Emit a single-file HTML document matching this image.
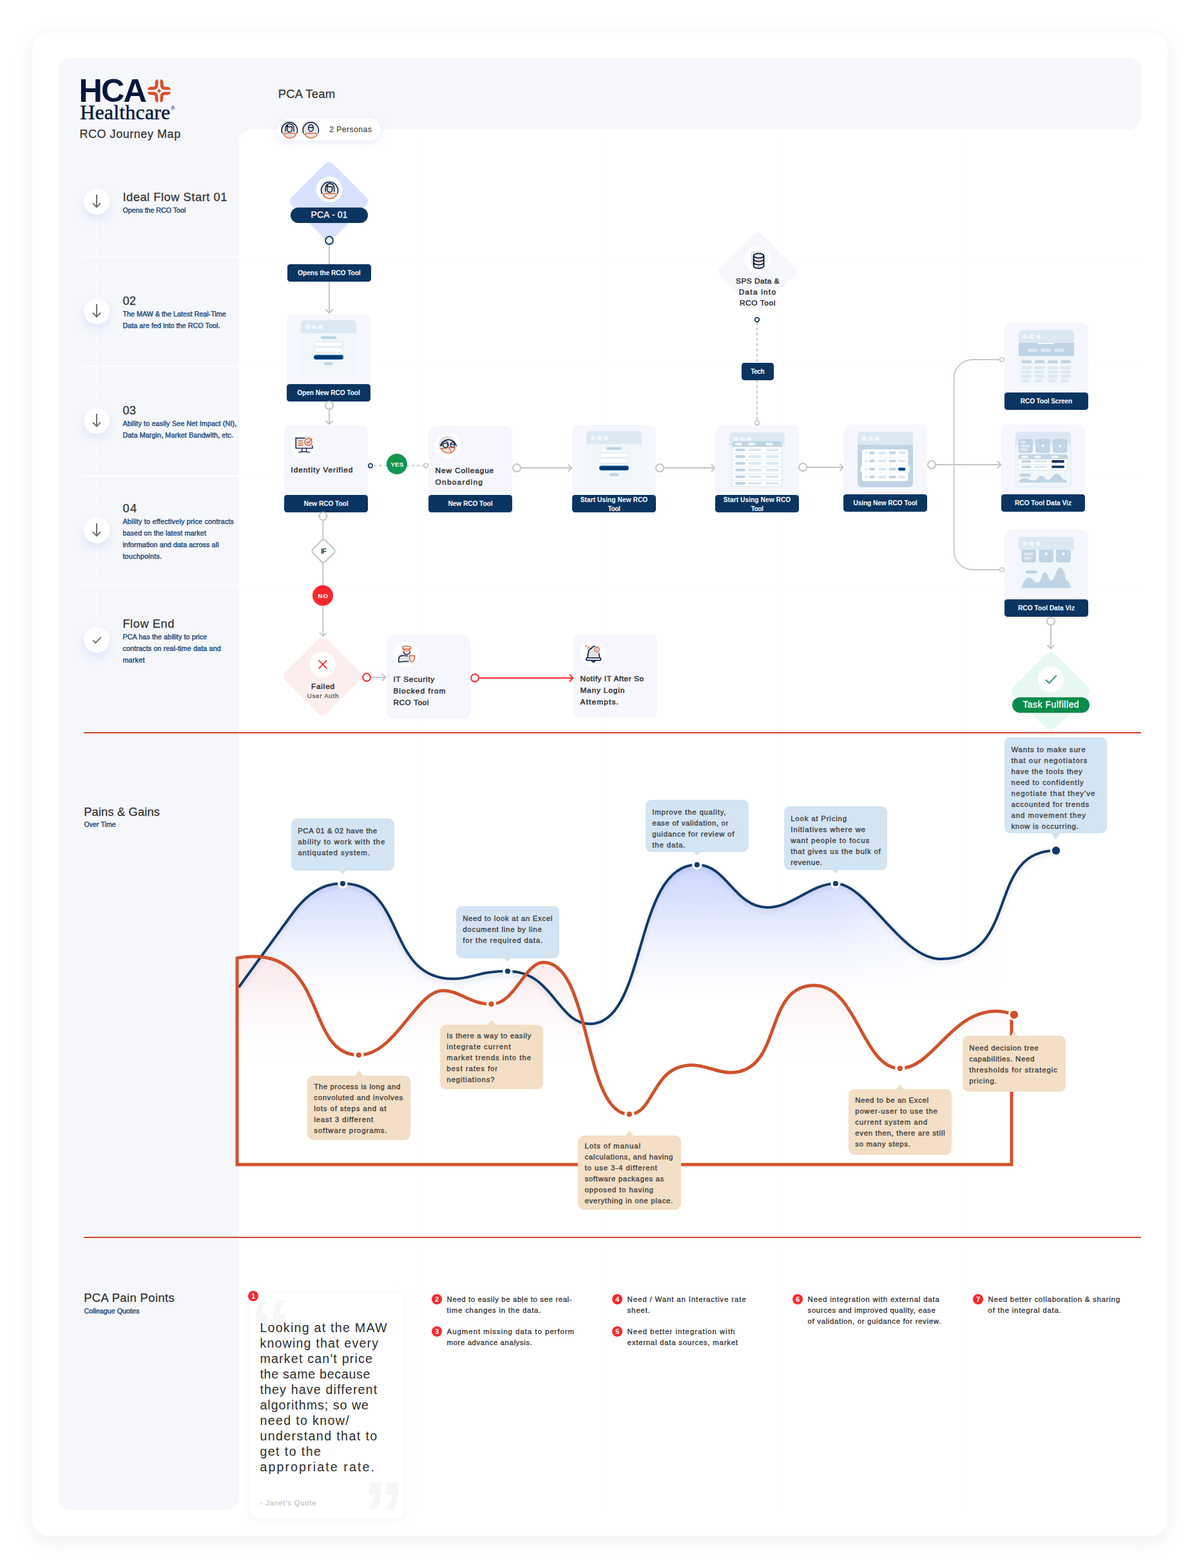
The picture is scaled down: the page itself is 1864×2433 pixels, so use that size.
<!DOCTYPE html>
<html lang="en">
<head>
<meta charset="utf-8">
<title>RCO Journey Map</title>
<style>
html,body{margin:0;padding:0}
body{width:1864px;height:2433px;position:relative;overflow:hidden;background:#fff;font-family:"Liberation Sans",sans-serif;}
.b{position:absolute;display:block;box-sizing:border-box}
.t{position:absolute;display:block;margin:0;padding:0;white-space:nowrap;line-height:1;font-weight:400}
svg{overflow:visible}
svg text{font-family:"Liberation Sans",sans-serif}
</style>
</head>
<body>
<div class="b" style="left:50px;top:50px;width:1761.5px;height:2333px;background:#fff;border-radius:27px;box-shadow:0 8px 34px rgba(20,20,30,.07);"></div>
<div class="b" style="left:90px;top:90px;width:1681px;height:111px;background:#f6f7fb;border-radius:20px 20px 20px 0;"></div>
<div class="b" style="left:90px;top:90px;width:281px;height:2253px;background:#f6f7fb;border-radius:20px 0 20px 20px;"></div>
<div class="b" style="left:371px;top:201px;width:20px;height:20px;background:#f6f7fb;"></div>
<div class="b" style="left:371px;top:201px;width:20px;height:20px;background:#fff;border-radius:20px 0 0 0;"></div>
<svg class="b" style="left:0;top:0" width="1864" height="2433" viewBox="0 0 1864 2433">
<line x1="652.5" y1="202" x2="652.5" y2="2343" stroke="#f6f6f9" stroke-width="1" stroke-dasharray="3 5"/>
<line x1="932.5" y1="202" x2="932.5" y2="2343" stroke="#f6f6f9" stroke-width="1" stroke-dasharray="3 5"/>
<line x1="1212.5" y1="202" x2="1212.5" y2="2343" stroke="#f6f6f9" stroke-width="1" stroke-dasharray="3 5"/>
<line x1="1492.5" y1="202" x2="1492.5" y2="2343" stroke="#f6f6f9" stroke-width="1" stroke-dasharray="3 5"/>
<line x1="130" y1="398.6" x2="371" y2="398.6" stroke="#fff" stroke-width="2"/>
<line x1="375" y1="398.6" x2="1771" y2="398.6" stroke="#f6f6f9" stroke-width="1" stroke-dasharray="4 5"/>
<line x1="130" y1="568.6" x2="371" y2="568.6" stroke="#fff" stroke-width="2"/>
<line x1="375" y1="568.6" x2="1771" y2="568.6" stroke="#f6f6f9" stroke-width="1" stroke-dasharray="4 5"/>
<line x1="130" y1="738.6" x2="371" y2="738.6" stroke="#fff" stroke-width="2"/>
<line x1="375" y1="738.6" x2="1771" y2="738.6" stroke="#f6f6f9" stroke-width="1" stroke-dasharray="4 5"/>
<line x1="130" y1="908.6" x2="371" y2="908.6" stroke="#fff" stroke-width="2"/>
<line x1="375" y1="908.6" x2="1771" y2="908.6" stroke="#f6f6f9" stroke-width="1" stroke-dasharray="4 5"/>
<line x1="150" y1="337" x2="150" y2="970" stroke="#fff" stroke-width="2" stroke-dasharray="4 4"/>
<line x1="130" y1="1137" x2="1771" y2="1137" stroke="#d04a28" stroke-width="2"/>
<line x1="130" y1="1920" x2="1771" y2="1920" stroke="#d04a28" stroke-width="2"/>
</svg>
<span class="t" style="left:122.6px;top:116px;font-size:50.4px;color:#03173e;font-weight:700;letter-spacing:-1.99px;">HCA</span>
<span class="t" style="left:124.2px;top:158px;font-size:32.1px;color:#03173e;letter-spacing:0.14px;-webkit-text-stroke:0.45px #03173e;font-family:'Liberation Serif',serif;">Healthcare</span>
<span class="t" style="left:265px;top:164px;font-size:9px;color:#03173e;">®</span>
<svg class="b" style="left:228.5px;top:122.5px" width="36" height="36" viewBox="-18 -18 36 36"><g fill="#d5532c"><path transform="rotate(0)" d="M1.6,-17.7Q6.6,-17.7 6.6,-12L6.6,-9Q6.6,-6.3 9.5,-6.3L12.5,-6.3Q17.7,-6.3 17.7,-1.5L9.5,-1.5Q1.6,-1.5 1.6,-9.5Z"/><path transform="rotate(90)" d="M1.6,-17.7Q6.6,-17.7 6.6,-12L6.6,-9Q6.6,-6.3 9.5,-6.3L12.5,-6.3Q17.7,-6.3 17.7,-1.5L9.5,-1.5Q1.6,-1.5 1.6,-9.5Z"/><path transform="rotate(180)" d="M1.6,-17.7Q6.6,-17.7 6.6,-12L6.6,-9Q6.6,-6.3 9.5,-6.3L12.5,-6.3Q17.7,-6.3 17.7,-1.5L9.5,-1.5Q1.6,-1.5 1.6,-9.5Z"/><path transform="rotate(270)" d="M1.6,-17.7Q6.6,-17.7 6.6,-12L6.6,-9Q6.6,-6.3 9.5,-6.3L12.5,-6.3Q17.7,-6.3 17.7,-1.5L9.5,-1.5Q1.6,-1.5 1.6,-9.5Z"/><path d="M0,-3.7Q.9,-.9 3.7,0Q.9,.9 0,3.7Q-.9,.9 -3.7,0Q-.9,-.9 0,-3.7Z"/></g></svg>
<span class="t" style="left:123.4px;top:199px;font-size:18px;color:#333;letter-spacing:0.55px;-webkit-text-stroke:0.25px #333;">RCO Journey Map</span>
<div class="b" style="left:130px;top:293px;width:40px;height:40px;background:#fff;border-radius:50%;box-shadow:0 7px 14px rgba(196,208,245,.45);"></div>
<svg class="b" style="left:130px;top:293px" width="40" height="40" viewBox="-20 -20 40 40"><path d="M0,-11 L0,8.3 M-6,2.3 L0,8.6 L6,2.3" fill="none" stroke="#6e6e6e" stroke-width="2"/></svg>
<span class="t" style="left:190.4px;top:297px;font-size:18.4px;color:#333;letter-spacing:0.48px;-webkit-text-stroke:0.25px #333;">Ideal Flow Start 01</span>
<p class="t" style="left:190.4px;top:317px;font-size:10.8px;line-height:18px;color:#1b497b;-webkit-text-stroke:0.4px #1b497b;"><span style="letter-spacing:-0.09px">Opens the RCO Tool</span></p>
<div class="b" style="left:130px;top:463px;width:40px;height:40px;background:#fff;border-radius:50%;box-shadow:0 7px 14px rgba(196,208,245,.45);"></div>
<svg class="b" style="left:130px;top:463px" width="40" height="40" viewBox="-20 -20 40 40"><path d="M0,-11 L0,8.3 M-6,2.3 L0,8.6 L6,2.3" fill="none" stroke="#6e6e6e" stroke-width="2"/></svg>
<span class="t" style="left:190.4px;top:458px;font-size:18.4px;color:#333;letter-spacing:0.13px;-webkit-text-stroke:0.25px #333;">02</span>
<p class="t" style="left:190.4px;top:478px;font-size:10.8px;line-height:18px;color:#1b497b;-webkit-text-stroke:0.4px #1b497b;"><span style="letter-spacing:-0.01px">The MAW &amp; the Latest Real-Time</span><br><span style="letter-spacing:0.02px">Data are fed into the RCO Tool.</span></p>
<div class="b" style="left:130px;top:633px;width:40px;height:40px;background:#fff;border-radius:50%;box-shadow:0 7px 14px rgba(196,208,245,.45);"></div>
<svg class="b" style="left:130px;top:633px" width="40" height="40" viewBox="-20 -20 40 40"><path d="M0,-11 L0,8.3 M-6,2.3 L0,8.6 L6,2.3" fill="none" stroke="#6e6e6e" stroke-width="2"/></svg>
<span class="t" style="left:190.4px;top:628px;font-size:18.4px;color:#333;letter-spacing:0.13px;-webkit-text-stroke:0.25px #333;">03</span>
<p class="t" style="left:190.4px;top:648px;font-size:10.8px;line-height:18px;color:#1b497b;-webkit-text-stroke:0.4px #1b497b;"><span style="letter-spacing:0.11px">Ability to easily See Net Impact (NI),</span><br><span style="letter-spacing:0.09px">Data Margin, Market Bandwith, etc.</span></p>
<div class="b" style="left:130px;top:803px;width:40px;height:40px;background:#fff;border-radius:50%;box-shadow:0 7px 14px rgba(196,208,245,.45);"></div>
<svg class="b" style="left:130px;top:803px" width="40" height="40" viewBox="-20 -20 40 40"><path d="M0,-11 L0,8.3 M-6,2.3 L0,8.6 L6,2.3" fill="none" stroke="#6e6e6e" stroke-width="2"/></svg>
<span class="t" style="left:190.4px;top:780px;font-size:18.4px;color:#333;letter-spacing:1.33px;-webkit-text-stroke:0.25px #333;">04</span>
<p class="t" style="left:190.4px;top:800px;font-size:10.8px;line-height:18px;color:#1b497b;-webkit-text-stroke:0.4px #1b497b;"><span style="letter-spacing:0.21px">Ability to effectively price contracts</span><br><span style="letter-spacing:0.09px">based on the latest market</span><br><span style="letter-spacing:0.07px">information and data across all</span><br><span style="letter-spacing:0.22px">touchpoints.</span></p>
<div class="b" style="left:130px;top:973px;width:40px;height:40px;background:#fff;border-radius:50%;box-shadow:0 7px 14px rgba(196,208,245,.45);"></div>
<svg class="b" style="left:130px;top:973px" width="40" height="40" viewBox="-20 -20 40 40"><path d="M-5.6,0.6 L-1.7,4.6 L6.6,-4.4" fill="none" stroke="#6e6e6e" stroke-width="2"/></svg>
<span class="t" style="left:190.4px;top:959px;font-size:18.4px;color:#333;letter-spacing:0.48px;-webkit-text-stroke:0.25px #333;">Flow End</span>
<p class="t" style="left:190.4px;top:979px;font-size:10.8px;line-height:18px;color:#1b497b;-webkit-text-stroke:0.4px #1b497b;"><span style="letter-spacing:0.07px">PCA has the ability to price</span><br><span style="letter-spacing:0.12px">contracts on real-time data and</span><br><span style="letter-spacing:0.2px">market</span></p>
<span class="t" style="left:130.2px;top:1251px;font-size:18.4px;color:#333;letter-spacing:0.11px;-webkit-text-stroke:0.25px #333;">Pains &amp; Gains</span>
<span class="t" style="left:130.4px;top:1274px;font-size:10.8px;color:#1b497b;letter-spacing:-0.04px;-webkit-text-stroke:0.4px #1b497b;">Over Time</span>
<span class="t" style="left:130.2px;top:2005px;font-size:18.4px;color:#333;letter-spacing:0.4px;-webkit-text-stroke:0.25px #333;">PCA Pain Points</span>
<span class="t" style="left:130.4px;top:2029px;font-size:10.8px;color:#1b497b;letter-spacing:-0.03px;-webkit-text-stroke:0.4px #1b497b;">Colleague Quotes</span>
<span class="t" style="left:431.8px;top:137px;font-size:18.4px;color:#333;letter-spacing:0.24px;-webkit-text-stroke:0.25px #333;">PCA Team</span>
<div class="b" style="left:431.4px;top:184px;width:159.6px;height:34px;background:#fff;border-radius:17px;box-shadow:0 4px 12px rgba(200,210,240,.35);"></div>
<svg class="b" style="left:429.5px;top:182px" width="37.6" height="37.6" viewBox="-20 -20 40 40"><circle cx="-1.5" cy="-1.7" r="13.2" fill="#e3e3e3"/><path d="M-11.2,6.6A12.9,12.9 0 1 1 12.4,6.6" fill="none" stroke="#03173e" stroke-width="1.5"/><path d="M-5.8,3.6L-5.8,-2.3A6.7,6.9 0 0 1 7.6,-2.3L7.6,3.6" fill="none" stroke="#03173e" stroke-width="1.5"/><path d="M-3.3,-7L-1.6,-4.3L4.6,-4.3L4.6,0A3.95,4.4 0 0 1 -3.3,0Z" fill="none" stroke="#03173e" stroke-width="1.5" stroke-linejoin="round"/><path d="M-9.6,8.3Q-6.5,5.6 -2,6.3Q1,6.8 4,6.3Q8.5,5.6 11.7,8.3Q7,14.3 1,14.3Q-5,14.3 -9.6,8.3Z" fill="#e3e3e3" stroke="#e2592b" stroke-width="1.4" stroke-linejoin="round"/></svg>
<svg class="b" style="left:462.5px;top:182px" width="37.6" height="37.6" viewBox="-20 -20 40 40"><circle cx="-1.5" cy="-1.7" r="13.2" fill="#e3e3e3"/><path d="M-11.2,6.6A12.9,12.9 0 1 1 12.4,6.6" fill="none" stroke="#03173e" stroke-width="1.5"/><ellipse cx="0.8" cy="-2.2" rx="4" ry="5.6" fill="none" stroke="#03173e" stroke-width="1.5"/><path d="M-3.2,-3.3L4.8,-3.3" stroke="#03173e" stroke-width="1.5"/><path d="M-9.6,8.3Q-6.5,5.6 -2,6.3Q1,6.8 4,6.3Q8.5,5.6 11.7,8.3Q7,14.3 1,14.3Q-5,14.3 -9.6,8.3Z" fill="#e3e3e3" stroke="#e2592b" stroke-width="1.4" stroke-linejoin="round"/></svg>
<span class="t" style="left:511.2px;top:195px;font-size:12px;color:#444;letter-spacing:0.54px;-webkit-text-stroke:0.2px #444;">2 Personas</span>
<div class="b" style="left:465.44px;top:267.44px;width:91.11px;height:91.11px;background:#d6e2ff;border-radius:9px;transform:rotate(45deg)"></div>
<div class="b" style="left:491px;top:274px;width:40px;height:40px;background:#fff;border-radius:50%;"></div>
<svg class="b" style="left:491px;top:274px" width="40" height="40" viewBox="-20 -20 40 40"><circle cx="-1.5" cy="-1.7" r="13.2" fill="#e3e3e3"/><path d="M-11.2,6.6A12.9,12.9 0 1 1 12.4,6.6" fill="none" stroke="#03173e" stroke-width="1.5"/><path d="M-5.8,3.6L-5.8,-2.3A6.7,6.9 0 0 1 7.6,-2.3L7.6,3.6" fill="none" stroke="#03173e" stroke-width="1.5"/><path d="M-3.3,-7L-1.6,-4.3L4.6,-4.3L4.6,0A3.95,4.4 0 0 1 -3.3,0Z" fill="none" stroke="#03173e" stroke-width="1.5" stroke-linejoin="round"/><path d="M-9.6,8.3Q-6.5,5.6 -2,6.3Q1,6.8 4,6.3Q8.5,5.6 11.7,8.3Q7,14.3 1,14.3Q-5,14.3 -9.6,8.3Z" fill="#e3e3e3" stroke="#e2592b" stroke-width="1.4" stroke-linejoin="round"/></svg>
<div class="b" style="left:451px;top:322px;width:120px;height:24px;background:#0a3561;border-radius:12px;"></div>
<span class="t" style="left:482.6px;top:326px;font-size:14px;color:#fff;letter-spacing:0.11px;-webkit-text-stroke:0.25px #fff;">PCA - 01</span>
<svg class="b" style="left:0;top:0" width="1864" height="2433" viewBox="0 0 1864 2433">
<line x1="511" y1="379" x2="511" y2="411" stroke="#c4c4c4" stroke-width="2"/>
<line x1="511" y1="437" x2="511" y2="485.6" stroke="#c4c4c4" stroke-width="2"/><path d="M505.4,480L511,485.6L516.6,480" fill="none" stroke="#c4c4c4" stroke-width="2"/>
<line x1="511" y1="635" x2="511" y2="658.2" stroke="#c4c4c4" stroke-width="2"/><path d="M505.4,652.6L511,658.2L516.6,652.6" fill="none" stroke="#c4c4c4" stroke-width="2"/>
<line x1="501.4" y1="807" x2="501.4" y2="838" stroke="#c4c4c4" stroke-width="2"/>
<line x1="501.4" y1="872" x2="501.4" y2="909" stroke="#c4c4c4" stroke-width="2"/>
<line x1="501.4" y1="939" x2="501.4" y2="987.2" stroke="#c4c4c4" stroke-width="2"/><path d="M495.8,981.6L501.4,987.2L507,981.6" fill="none" stroke="#c4c4c4" stroke-width="2"/>
<rect x="-13.7" y="-13.7" width="27.4" height="27.4" rx="4.5" transform="translate(502 855) rotate(45)" fill="#fff" stroke="#c4c4c4" stroke-width="2"/>
<line x1="580" y1="722.6" x2="657" y2="722.6" stroke="#c4c4c4" stroke-width="2" stroke-dasharray="4 4.4"/>
<line x1="808" y1="726" x2="887.4" y2="726" stroke="#c4c4c4" stroke-width="2"/><path d="M881.8,720.4L887.4,726L881.8,731.6" fill="none" stroke="#c4c4c4" stroke-width="2"/>
<line x1="1030" y1="726" x2="1109.6" y2="726" stroke="#c4c4c4" stroke-width="2"/><path d="M1104,720.4L1109.6,726L1104,731.6" fill="none" stroke="#c4c4c4" stroke-width="2"/>
<line x1="1252" y1="725" x2="1308.8" y2="725" stroke="#c4c4c4" stroke-width="2"/><path d="M1303.2,719.4L1308.8,725L1303.2,730.6" fill="none" stroke="#c4c4c4" stroke-width="2"/>
<line x1="1452" y1="721" x2="1553.4" y2="721" stroke="#c4c4c4" stroke-width="2"/><path d="M1547.8,715.4L1553.4,721L1547.8,726.6" fill="none" stroke="#c4c4c4" stroke-width="2"/>
<path d="M1551,558L1510,558A29.5,29.5 0 0 0 1480.5,587.5L1480.5,854.5A29.5,29.5 0 0 0 1510,884L1551,884" fill="none" stroke="#c9c9c9" stroke-width="2"/>
<line x1="1175" y1="500" x2="1175" y2="563" stroke="#c4c4c4" stroke-width="2" stroke-dasharray="4 4.2"/>
<line x1="1175" y1="590" x2="1175" y2="652" stroke="#c4c4c4" stroke-width="2" stroke-dasharray="4 4.2"/>
<line x1="1631" y1="970" x2="1631" y2="1006.6" stroke="#c4c4c4" stroke-width="2"/><path d="M1625.4,1001L1631,1006.6L1636.6,1001" fill="none" stroke="#c4c4c4" stroke-width="2"/>
<line x1="575" y1="1051" x2="598.4" y2="1051" stroke="#c4c4c4" stroke-width="2"/><path d="M592.8,1045.4L598.4,1051L592.8,1056.6" fill="none" stroke="#c4c4c4" stroke-width="2"/>
<line x1="743" y1="1052" x2="889.4" y2="1052" stroke="#f9282d" stroke-width="2"/><path d="M883.8,1046.4L889.4,1052L883.8,1057.6" fill="none" stroke="#f9282d" stroke-width="2"/>
</svg>
<div class="b" style="left:445.7px;top:410px;width:130.5px;height:27px;background:#0a3561;border-radius:4.5px;"></div>
<span class="t" style="left:462.2px;top:419px;font-size:10.2px;color:#fff;font-weight:700;letter-spacing:-0.08px;">Opens the RCO Tool</span>
<div class="b" style="left:445px;top:487.6px;width:130px;height:135.4px;background:#f6f6fe;border-radius:10px;"></div>
<svg class="b" style="left:467px;top:497px" width="86" height="86" viewBox="0 0 86 86"><rect width="86" height="86" rx="6" fill="#f0f6fa"/><path d="M0,20L0,6A6,6 0 0 1 6,0L80,0A6,6 0 0 1 86,6L86,20Z" fill="#dce9f3"/><circle cx="10.4" cy="10.4" r="3.5" fill="#f0f6fa"/><circle cx="20.4" cy="10.4" r="3.5" fill="#f0f6fa"/><circle cx="30.4" cy="10.4" r="3.5" fill="#f0f6fa"/><rect x="31" y="24.8" width="24" height="4.3" rx="2.15" fill="#bfd4e5"/><rect x="20.5" y="33.7" width="45" height="6.8" rx="3.4" fill="#fff" stroke="#dbe5ef" stroke-width="1"/><rect x="20.5" y="42.6" width="45" height="6.8" rx="3.4" fill="#fff" stroke="#dbe5ef" stroke-width="1"/><rect x="20.5" y="54.1" width="45" height="6.4" rx="3.2" fill="#0a3561" stroke="#0b6ac0" stroke-width="1.2"/><rect x="36" y="65.3" width="14" height="4.4" rx="2.2" fill="#bfd4e5"/></svg>
<div class="b" style="left:445px;top:596px;width:130px;height:27px;background:#0a3561;border-radius:4.5px;"></div>
<span class="t" style="left:461.25px;top:605px;font-size:10.2px;color:#fff;font-weight:700;letter-spacing:-0.08px;">Open New RCO Tool</span>
<div class="b" style="left:441px;top:660px;width:130px;height:135px;background:#f6f6fe;border-radius:10px;"></div>
<div class="b" style="left:451px;top:670px;width:40px;height:40px;background:#fff;border-radius:50%;"></div>
<svg class="b" style="left:451px;top:670px" width="40" height="40" viewBox="-20 -20 40 40"><rect x="-14" y="-13" width="27" height="16" fill="#e3e3e3"/><path d="M2.4,-10.2L-11.7,-10.2L-11.7,5.4L13.9,5.4L13.9,1" fill="none" stroke="#1b2b55" stroke-width="1.5"/><path d="M-2.4,5.4L-2.4,11M4.6,5.4L4.6,11M-8,11.9Q1,10 10,11.9" fill="none" stroke="#1b2b55" stroke-width="1.4"/><path d="M-8,-5.8L-1,-5.8M-8,-2.4L-1,-2.4M-8,1L-1,1" stroke="#e2592b" stroke-width="1.3"/><circle cx="7.6" cy="-4.3" r="5.4" fill="none" stroke="#e2592b" stroke-width="1.4"/><path d="M5,-4.6L7.3,-2.2L13.4,-9.4" fill="none" stroke="#e2592b" stroke-width="1.4"/></svg>
<div class="b" style="left:441px;top:768px;width:130px;height:27px;background:#0a3561;border-radius:4.5px;"></div>
<span class="t" style="left:471.5px;top:777px;font-size:10.2px;color:#fff;font-weight:700;letter-spacing:-0.09px;">New RCO Tool</span>
<span class="t" style="left:451.4px;top:724px;font-size:11.8px;color:#333;letter-spacing:0.96px;-webkit-text-stroke:0.5px #333;">Identity Verified</span>
<div class="b" style="left:600px;top:704px;width:32px;height:32px;background:#12964f;border-radius:50%;"></div>
<span class="t" style="left:606.2px;top:716px;font-size:9.8px;color:#fff;font-weight:700;letter-spacing:0.2px;">YES</span>
<div class="b" style="left:665px;top:661px;width:130px;height:134px;background:#f6f6fe;border-radius:10px;"></div>
<div class="b" style="left:675px;top:671px;width:40px;height:40px;background:#fff;border-radius:50%;"></div>
<svg class="b" style="left:675px;top:671px" width="40" height="40" viewBox="-20 -20 40 40"><circle cx="-1.2" cy="-1.6" r="13" fill="#e3e3e3"/><path d="M-11.6,1.4A12.8,12.8 0 0 1 13.4,1.4" fill="none" stroke="#03173e" stroke-width="1.5"/><path d="M-9.3,1.6L-9.3,-1A5,5.4 0 0 1 .8,-1L.8,1.6" fill="none" stroke="#03173e" stroke-width="1.3"/><path d="M-7.2,-3.2L0,-3.2L0,0A3.6,3.6 0 0 1 -7.2,0Z" fill="none" stroke="#03173e" stroke-width="1.3" stroke-linejoin="round"/><ellipse cx="7.3" cy="-.8" rx="3.2" ry="4" fill="none" stroke="#03173e" stroke-width="1.3"/><path d="M4.2,-1.6L10.4,-1.6" stroke="#03173e" stroke-width="1.3"/><path d="M-11,4.8Q-5,5.6 -1,4.2Q3,2.6 6,3.6L11.6,3.6Q9.6,9.6 4.6,11.6Q-4,14 -11,4.8Z" fill="#e6e9ea" stroke="#e2592b" stroke-width="1.4" stroke-linejoin="round"/><path d="M1,3.8Q5.4,6 4.8,11.2" fill="none" stroke="#e2592b" stroke-width="1.2"/></svg>
<div class="b" style="left:665px;top:768px;width:130px;height:27px;background:#0a3561;border-radius:4.5px;"></div>
<span class="t" style="left:695.5px;top:777px;font-size:10.2px;color:#fff;font-weight:700;letter-spacing:-0.09px;">New RCO Tool</span>
<p class="t" style="left:675.6px;top:721px;font-size:11.8px;line-height:18px;color:#333;-webkit-text-stroke:0.5px #333;"><span style="letter-spacing:0.88px">New Colleague</span><br><span style="letter-spacing:1.29px">Onboarding</span></p>
<div class="b" style="left:888px;top:660px;width:130px;height:135px;background:#f6f6fe;border-radius:10px;"></div>
<svg class="b" style="left:910px;top:669px" width="86" height="86" viewBox="0 0 86 86"><rect width="86" height="86" rx="6" fill="#f0f6fa"/><path d="M0,20L0,6A6,6 0 0 1 6,0L80,0A6,6 0 0 1 86,6L86,20Z" fill="#dce9f3"/><circle cx="10.4" cy="10.4" r="3.5" fill="#f0f6fa"/><circle cx="20.4" cy="10.4" r="3.5" fill="#f0f6fa"/><circle cx="30.4" cy="10.4" r="3.5" fill="#f0f6fa"/><rect x="31" y="24.8" width="24" height="4.3" rx="2.15" fill="#bfd4e5"/><rect x="20.5" y="33.7" width="45" height="6.8" rx="3.4" fill="#fff" stroke="#dbe5ef" stroke-width="1"/><rect x="20.5" y="42.6" width="45" height="6.8" rx="3.4" fill="#fff" stroke="#dbe5ef" stroke-width="1"/><rect x="20.5" y="54.1" width="45" height="6.4" rx="3.2" fill="#0a3561" stroke="#0b6ac0" stroke-width="1.2"/><rect x="36" y="65.3" width="14" height="4.4" rx="2.2" fill="#bfd4e5"/></svg>
<div class="b" style="left:888px;top:768px;width:130px;height:27px;background:#0a3561;border-radius:4.5px;"></div>
<p class="t" style="left:953px;top:769px;font-size:10.2px;line-height:14px;color:#fff;font-weight:700;text-align:center;transform:translateX(-50%);"><span style="letter-spacing:0.06px">Start Using New RCO</span><br><span style="letter-spacing:-0.42px">Tool</span></p>
<div class="b" style="left:1110px;top:660px;width:130px;height:135px;background:#f6f6fe;border-radius:10px;"></div>
<svg class="b" style="left:1132px;top:670.7px" width="86" height="86" viewBox="0 0 86 86"><rect width="86" height="86" rx="6" fill="#f0f6fa"/><path d="M0,20L0,6A6,6 0 0 1 6,0L80,0A6,6 0 0 1 86,6L86,20Z" fill="#dce9f3"/><circle cx="10.4" cy="10.4" r="3.5" fill="#f0f6fa"/><circle cx="20.4" cy="10.4" r="3.5" fill="#f0f6fa"/><circle cx="30.4" cy="10.4" r="3.5" fill="#f0f6fa"/><rect x="4.5" y="13.7" width="77" height="70.3" rx="4" fill="#fff" stroke="#dbe6f0" stroke-width="1"/><path d="M4.5,22.6L4.5,17.7A4,4 0 0 1 8.5,13.7L77.5,13.7A4,4 0 0 1 81.5,17.7L81.5,22.6Z" fill="#bfd4e5"/><rect x="9" y="15.9" width="11" height="4.3" rx="2.15" fill="#f0f6fa"/><rect x="29.3" y="15.9" width="11.2" height="4.3" rx="2.15" fill="#f0f6fa"/><rect x="56.4" y="15.9" width="11.3" height="4.3" rx="2.15" fill="#f0f6fa"/><rect x="9" y="24.95" width="16" height="4.3" rx="2.15" fill="#bfd4e5"/><rect x="29.3" y="24.95" width="20.5" height="4.3" rx="2.15" fill="#dce9f3"/><rect x="56.4" y="24.95" width="20.6" height="4.3" rx="2.15" fill="#dce9f3"/><rect x="5" y="32.1" width="76" height="1" fill="#dbe6f0"/><rect x="9" y="35.33" width="16" height="4.3" rx="2.15" fill="#bfd4e5"/><rect x="29.3" y="35.33" width="20.5" height="4.3" rx="2.15" fill="#dce9f3"/><rect x="56.4" y="35.33" width="20.6" height="4.3" rx="2.15" fill="#dce9f3"/><rect x="5" y="42.48" width="76" height="1" fill="#dbe6f0"/><rect x="9" y="45.71" width="16" height="4.3" rx="2.15" fill="#bfd4e5"/><rect x="29.3" y="45.71" width="20.5" height="4.3" rx="2.15" fill="#dce9f3"/><rect x="56.4" y="45.71" width="20.6" height="4.3" rx="2.15" fill="#dce9f3"/><rect x="5" y="52.86" width="76" height="1" fill="#dbe6f0"/><rect x="9" y="56.09" width="16" height="4.3" rx="2.15" fill="#bfd4e5"/><rect x="29.3" y="56.09" width="20.5" height="4.3" rx="2.15" fill="#dce9f3"/><rect x="56.4" y="56.09" width="20.6" height="4.3" rx="2.15" fill="#dce9f3"/><rect x="5" y="63.24" width="76" height="1" fill="#dbe6f0"/><rect x="9" y="66.47" width="16" height="4.3" rx="2.15" fill="#bfd4e5"/><rect x="29.3" y="66.47" width="20.5" height="4.3" rx="2.15" fill="#dce9f3"/><rect x="56.4" y="66.47" width="20.6" height="4.3" rx="2.15" fill="#dce9f3"/><rect x="5" y="73.62" width="76" height="1" fill="#dbe6f0"/><rect x="9" y="76.85" width="16" height="4.3" rx="2.15" fill="#bfd4e5"/><rect x="29.3" y="76.85" width="20.5" height="4.3" rx="2.15" fill="#dce9f3"/><rect x="56.4" y="76.85" width="20.6" height="4.3" rx="2.15" fill="#dce9f3"/></svg>
<div class="b" style="left:1110px;top:768px;width:130px;height:27px;background:#0a3561;border-radius:4.5px;"></div>
<p class="t" style="left:1175px;top:769px;font-size:10.2px;line-height:14px;color:#fff;font-weight:700;text-align:center;transform:translateX(-50%);"><span style="letter-spacing:0.06px">Start Using New RCO</span><br><span style="letter-spacing:-0.42px">Tool</span></p>
<div class="b" style="left:1309px;top:658.8px;width:130px;height:135px;background:#f6f6fe;border-radius:10px;"></div>
<svg class="b" style="left:1331px;top:670px" width="86" height="86" viewBox="0 0 86 86"><rect width="86" height="86" rx="6" fill="#bfd4e5"/><path d="M0,20L0,6A6,6 0 0 1 6,0L80,0A6,6 0 0 1 86,6L86,20Z" fill="#dce9f3"/><circle cx="10.4" cy="10.4" r="3.5" fill="#f0f6fa"/><circle cx="20.4" cy="10.4" r="3.5" fill="#f0f6fa"/><circle cx="30.4" cy="10.4" r="3.5" fill="#f0f6fa"/><rect x="7" y="27.2" width="71.4" height="49.4" rx="3.5" fill="#fff"/><rect x="7" y="39.2" width="71.4" height=".8" fill="#e4ecf4"/><rect x="4.6" y="52.2" width="76.4" height="11.8" rx="3.5" fill="#dfe8f1"/><rect x="5.2" y="52.8" width="75.2" height="10.6" rx="3.2" fill="#fff"/><circle cx="13.4" cy="32.7" r="2.3" fill="#dce9f3"/><rect x="18" y="30.55" width="9" height="4.3" rx="2.15" fill="#bfd4e5"/><rect x="31.5" y="30.55" width="13.4" height="4.3" rx="2.15" fill="#dce9f3"/><rect x="48.6" y="30.55" width="11.2" height="4.3" rx="2.15" fill="#bfd4e5"/><rect x="63.1" y="30.55" width="11.1" height="4.3" rx="2.15" fill="#dce9f3"/><circle cx="13.4" cy="45.4" r="2.3" fill="#dce9f3"/><rect x="18" y="43.25" width="9" height="4.3" rx="2.15" fill="#bfd4e5"/><rect x="31.5" y="43.25" width="13.4" height="4.3" rx="2.15" fill="#dce9f3"/><rect x="48.6" y="43.25" width="11.2" height="4.3" rx="2.15" fill="#bfd4e5"/><rect x="63.1" y="43.25" width="11.1" height="4.3" rx="2.15" fill="#dce9f3"/><circle cx="13.4" cy="58" r="2.3" fill="#dce9f3"/><rect x="18" y="55.85" width="9" height="4.3" rx="2.15" fill="#bfd4e5"/><rect x="31.5" y="55.85" width="13.4" height="4.3" rx="2.15" fill="#dce9f3"/><rect x="48.6" y="55.85" width="11.2" height="4.3" rx="2.15" fill="#bfd4e5"/><rect x="63.4" y="56.1" width="10.6" height="3.8" rx="1.9" fill="#0a3561" stroke="#0b6ac0" stroke-width="1.1"/><circle cx="13.4" cy="70.2" r="2.3" fill="#dce9f3"/><rect x="18" y="68.05" width="9" height="4.3" rx="2.15" fill="#bfd4e5"/><rect x="31.5" y="68.05" width="13.4" height="4.3" rx="2.15" fill="#dce9f3"/><rect x="48.6" y="68.05" width="11.2" height="4.3" rx="2.15" fill="#bfd4e5"/><rect x="63.1" y="68.05" width="11.1" height="4.3" rx="2.15" fill="#dce9f3"/></svg>
<div class="b" style="left:1309px;top:767px;width:130px;height:27px;background:#0a3561;border-radius:4.5px;"></div>
<span class="t" style="left:1324.5px;top:776px;font-size:10.2px;color:#fff;font-weight:700;letter-spacing:-0.12px;">Using New RCO Tool</span>
<div class="b" style="left:1559px;top:501px;width:130px;height:135px;background:#f6f6fe;border-radius:10px;"></div>
<svg class="b" style="left:1581px;top:512px" width="86" height="86" viewBox="0 0 86 86"><rect width="86" height="86" rx="6" fill="#f0f6fa"/><path d="M0,20L0,6A6,6 0 0 1 6,0L80,0A6,6 0 0 1 86,6L86,20Z" fill="#dce9f3"/><circle cx="10.4" cy="10.4" r="3.5" fill="#f0f6fa"/><circle cx="20.4" cy="10.4" r="3.5" fill="#f0f6fa"/><circle cx="30.4" cy="10.4" r="3.5" fill="#f0f6fa"/><rect x="0" y="20" width="86" height="20.5" fill="#bfd4e5"/><path d="M29,20L55.8,20Q55,21.9 53.6,21.9L31.2,21.9Q29.8,21.9 29,20Z" fill="#f5f9fc"/><rect x="14.1" y="29.1" width="15.9" height="4.8" rx="2.4" fill="#dce9f3"/><rect x="34.5" y="29.1" width="15.7" height="4.8" rx="2.4" fill="#dce9f3"/><rect x="54.9" y="29.1" width="15.8" height="4.8" rx="2.4" fill="#dce9f3"/><rect x="4.5" y="47" width="15.8" height="4.8" rx="2.4" fill="#bfd4e5"/><rect x="24.8" y="47" width="15.8" height="4.8" rx="2.4" fill="#bfd4e5"/><rect x="45" y="47" width="15.8" height="4.8" rx="2.4" fill="#bfd4e5"/><rect x="65.1" y="47" width="15.8" height="4.8" rx="2.4" fill="#bfd4e5"/><rect x="4.5" y="56.1" width="15.8" height="4.8" rx="2.4" fill="#dce9f3"/><rect x="24.8" y="56.1" width="15.8" height="4.8" rx="2.4" fill="#dce9f3"/><rect x="45" y="56.1" width="15.8" height="4.8" rx="2.4" fill="#dce9f3"/><rect x="65.1" y="56.1" width="15.8" height="4.8" rx="2.4" fill="#dce9f3"/><rect x="4.5" y="62.8" width="15.8" height="4.8" rx="2.4" fill="#dce9f3"/><rect x="24.8" y="62.8" width="15.8" height="4.8" rx="2.4" fill="#dce9f3"/><rect x="45" y="62.8" width="15.8" height="4.8" rx="2.4" fill="#dce9f3"/><rect x="65.1" y="62.8" width="15.8" height="4.8" rx="2.4" fill="#dce9f3"/><rect x="4.5" y="69.6" width="15.8" height="4.8" rx="2.4" fill="#dce9f3"/><rect x="24.8" y="69.6" width="15.8" height="4.8" rx="2.4" fill="#dce9f3"/><rect x="45" y="69.6" width="15.8" height="4.8" rx="2.4" fill="#dce9f3"/><rect x="65.1" y="69.6" width="15.8" height="4.8" rx="2.4" fill="#dce9f3"/><rect x="4.5" y="76.3" width="12" height="4.8" rx="2.4" fill="#dce9f3"/><rect x="24.8" y="76.3" width="12" height="4.8" rx="2.4" fill="#dce9f3"/><rect x="45" y="76.3" width="12" height="4.8" rx="2.4" fill="#dce9f3"/><rect x="65.1" y="76.3" width="12" height="4.8" rx="2.4" fill="#dce9f3"/></svg>
<div class="b" style="left:1559px;top:609px;width:130px;height:27px;background:#0a3561;border-radius:4.5px;"></div>
<span class="t" style="left:1583.8px;top:618px;font-size:10.2px;color:#fff;font-weight:700;letter-spacing:-0.19px;">RCO Tool Screen</span>
<div class="b" style="left:1554px;top:659px;width:130px;height:135px;background:#f6f6fe;border-radius:10px;"></div>
<svg class="b" style="left:1576px;top:670px" width="86" height="86" viewBox="0 0 86 86"><rect width="86" height="86" rx="6" fill="#f0f6fa"/><path d="M0,20L0,6A6,6 0 0 1 6,0L80,0A6,6 0 0 1 86,6L86,20Z" fill="#dce9f3"/><rect x=".4" y=".4" width="85.2" height="85.2" rx="5.8" fill="none" stroke="#d9e5ef" stroke-width=".8"/><rect x="4.6" y="11" width="22.3" height="21.7" rx="3.8" fill="#bfd4e5"/><rect x="31.4" y="11" width="22.3" height="21.7" rx="3.8" fill="#bfd4e5"/><rect x="58.2" y="11" width="22.3" height="21.7" rx="3.8" fill="#bfd4e5"/><rect x="7.7" y="14.2" width="8.3" height="4" rx="2" fill="#dce9f3"/><rect x="7.7" y="20" width="15.3" height="4" rx="2" fill="#dce9f3"/><rect x="7.7" y="25.6" width="11.7" height="4" rx="2" fill="#dce9f3"/><circle cx="42.5" cy="21.8" r="7.2" fill="none" stroke="#dce9f3" stroke-width=".5"/><ellipse cx="42.5" cy="21.8" rx="2.5" ry="2.1" fill="#f0f6fa"/><circle cx="69.3" cy="21.8" r="7.2" fill="none" stroke="#dce9f3" stroke-width=".5"/><ellipse cx="69.3" cy="21.8" rx="2.5" ry="2.1" fill="#f0f6fa"/><rect x="4.5" y="35.2" width="76.6" height="24" rx="3.8" fill="#fff" stroke="#dbe6f0" stroke-width="1"/><path d="M4.5,42.4L4.5,39A3.8,3.8 0 0 1 8.3,35.2L77.3,35.2A3.8,3.8 0 0 1 81.1,39L81.1,42.4Z" fill="#bfd4e5"/><rect x="9" y="36.9" width="11" height="3.9" rx="1.95" fill="#f0f6fa"/><rect x="29" y="36.9" width="11" height="3.9" rx="1.95" fill="#f0f6fa"/><rect x="56" y="36.9" width="11" height="3.9" rx="1.95" fill="#f0f6fa"/><rect x="5" y="50" width="75.6" height=".9" fill="#dbe6f0"/><rect x="9" y="44.1" width="15.4" height="3.8" rx="1.9" fill="#bfd4e5"/><rect x="29" y="44.1" width="20" height="3.8" rx="1.9" fill="#dce9f3"/><rect x="56" y="44.1" width="20" height="3.8" rx="1.9" fill="#0a3561"/><rect x="9" y="52.4" width="15.4" height="3.8" rx="1.9" fill="#bfd4e5"/><rect x="29" y="52.4" width="20" height="3.8" rx="1.9" fill="#dce9f3"/><rect x="56" y="52.4" width="20" height="3.8" rx="1.9" fill="#0a3561"/><rect x="6.2" y="65.1" width="17.8" height="4.6" rx="2.3" fill="#bfd4e5"/><path d="M4.6,78.8C7,74 10,71.8 14.5,71.8C20,71.8 22,75.6 28.5,75.6C34,75.6 34.6,68.2 40,68.2C45.6,68.2 45,74.4 50.4,74.4C56,74.4 58.6,65 64.2,65C68,65 71.4,69 72.6,73.2C75,73.4 78.6,73.6 80.4,78.8Z" fill="#bfd4e5"/></svg>
<div class="b" style="left:1554px;top:767px;width:130px;height:27px;background:#0a3561;border-radius:4.5px;"></div>
<span class="t" style="left:1575px;top:776px;font-size:10.2px;color:#fff;font-weight:700;letter-spacing:-0.03px;">RCO Tool Data Viz</span>
<div class="b" style="left:1559px;top:822px;width:130px;height:135px;background:#f6f6fe;border-radius:10px;"></div>
<svg class="b" style="left:1581px;top:833px" width="86" height="86" viewBox="0 0 86 86"><rect width="86" height="86" rx="6" fill="#f0f6fa"/><rect x="4.6" y="14" width="22.4" height="25.7" rx="3.8" fill="#bfd4e5"/><rect x="31.4" y="14" width="22.4" height="25.7" rx="3.8" fill="#bfd4e5"/><rect x="58.2" y="14" width="22.4" height="25.7" rx="3.8" fill="#bfd4e5"/><rect x="7.7" y="24.4" width="15.3" height="4.4" rx="2.2" fill="#dce9f3"/><rect x="7.7" y="31" width="11.9" height="4.4" rx="2.2" fill="#dce9f3"/><circle cx="42.6" cy="26.4" r="7.5" fill="none" stroke="#dce9f3" stroke-width=".6"/><circle cx="42.6" cy="26.4" r="2.4" fill="#f0f6fa"/><circle cx="69.5" cy="26.4" r="7.5" fill="none" stroke="#dce9f3" stroke-width=".6"/><circle cx="69.5" cy="26.4" r="2.4" fill="#f0f6fa"/><path d="M0,20L0,6A6,6 0 0 1 6,0L80,0A6,6 0 0 1 86,6L86,20Z" fill="#dce9f3"/><circle cx="10.4" cy="10.4" r="3.5" fill="#f0f6fa"/><circle cx="20.4" cy="10.4" r="3.5" fill="#f0f6fa"/><circle cx="30.4" cy="10.4" r="3.5" fill="#f0f6fa"/><rect x="10.8" y="52.1" width="18.2" height="4.8" rx="2.4" fill="#bfd4e5"/><path d="M4.6,79.6C7.4,68 11.6,63 15.8,63C21.6,63 23,71 29.6,71C35.6,71 35,55 40.6,55C46.6,55 45.6,67.6 50.6,67.6C56.6,67.6 58.4,47.6 64.4,47.6C69,47.6 72.4,58 73.4,67.2C76.6,66.6 79.2,70 80.8,79.6Z" fill="#bfd4e5"/></svg>
<div class="b" style="left:1559px;top:930px;width:130px;height:27px;background:#0a3561;border-radius:4.5px;"></div>
<span class="t" style="left:1580px;top:939px;font-size:10.2px;color:#fff;font-weight:700;letter-spacing:-0.03px;">RCO Tool Data Viz</span>
<div class="b" style="left:1130.44px;top:376.14px;width:91.11px;height:91.11px;background:#f6f7fb;border-radius:9px;transform:rotate(45deg)"></div>
<div class="b" style="left:1156px;top:383px;width:40px;height:40px;background:#fff;border-radius:50%;"></div>
<svg class="b" style="left:1156px;top:383px" width="40" height="40" viewBox="-20 -20 40 40"><rect x="-10.6" y="-13.6" width="16.6" height="21.4" rx="2.5" fill="#e3e3e3"/><path d="M-6.3,-6.1L-6.3,9.8A7.9,3.5 0 0 0 9.5,9.8L9.5,-6.1" fill="#fff" fill-opacity=".75" stroke="#03173e" stroke-width="1.9"/><ellipse cx="1.6" cy="-6.1" rx="7.9" ry="3.5" fill="#e3e3e3" stroke="#03173e" stroke-width="1.9"/><path d="M-6.3,-.9A7.9,3.5 0 0 0 9.5,-.9M-6.3,4.4A7.9,3.5 0 0 0 9.5,4.4" fill="none" stroke="#03173e" stroke-width="1.9"/><circle cx="1.4" cy="-.4" r=".9" fill="#e2592b"/><circle cx="1.4" cy="5.1" r=".9" fill="#e2592b"/><circle cx="1.4" cy="10.4" r=".9" fill="#e2592b"/></svg>
<p class="t" style="left:1176px;top:428px;font-size:11.8px;line-height:17px;color:#333;-webkit-text-stroke:0.5px #333;text-align:center;transform:translateX(-50%);"><span style="letter-spacing:0.49px">SPS Data &amp;</span><br><span style="letter-spacing:1.24px">Data into</span><br><span style="letter-spacing:0.65px">RCO Tool</span></p>
<div class="b" style="left:1151px;top:563px;width:50px;height:27px;background:#0a3561;border-radius:4.5px;"></div>
<span class="t" style="left:1165.2px;top:572px;font-size:10.2px;color:#fff;font-weight:700;letter-spacing:-0.48px;">Tech</span>
<div class="b" style="left:485.4px;top:908px;width:32px;height:32px;background:#f9282d;border-radius:50%;"></div>
<span class="t" style="left:493.6px;top:920px;font-size:9.8px;color:#fff;font-weight:700;letter-spacing:0.9px;">NO</span>
<span class="t" style="left:497.9px;top:851px;font-size:10.4px;color:#333;font-weight:700;letter-spacing:-0.63px;">IF</span>
<div class="b" style="left:455.44px;top:1004.44px;width:91.11px;height:91.11px;background:#fdeeee;border-radius:9px;transform:rotate(45deg)"></div>
<div class="b" style="left:481px;top:1011px;width:40px;height:40px;background:#fff;border-radius:50%;"></div>
<svg class="b" style="left:481px;top:1011px" width="40" height="40" viewBox="-20 -20 40 40"><path d="M-6.4,-6.4L6.4,6.4M6.4,-6.4L-6.4,6.4" stroke="#f9282d" stroke-width="1.8"/></svg>
<span class="t" style="left:482.9px;top:1060px;font-size:11.8px;color:#333;letter-spacing:0.81px;-webkit-text-stroke:0.5px #333;">Failed</span>
<span class="t" style="left:476.7px;top:1075px;font-size:9.6px;color:#555;letter-spacing:0.81px;-webkit-text-stroke:0.3px #555;">User Auth</span>
<div class="b" style="left:600px;top:985px;width:130px;height:130px;background:#f6f6fe;border-radius:10px;"></div>
<div class="b" style="left:610px;top:995px;width:40px;height:40px;background:#fff;border-radius:50%;"></div>
<svg class="b" style="left:610px;top:995px" width="40" height="40" viewBox="-20 -20 40 40"><path d="M-7,-13.5L3,-13.5L4,-6L-6,-5Z" fill="#e3e3e3"/><rect x="-13" y="0" width="23" height="10" rx="3" fill="#e3e3e3"/><path d="M-5.2,-9.8Q-4,-5.2 1.4,-4.7Q6.8,-5.2 8,-9.8" fill="#eef2f3" stroke="#e2592b" stroke-width="1.3" stroke-linejoin="round"/><ellipse cx="1.4" cy="-10" rx="6.6" ry="2.3" fill="#eef2f3" stroke="#e2592b" stroke-width="1.3"/><path d="M-2.6,-7.3Q1.4,-8.7 5.4,-7.3" fill="none" stroke="#e2592b" stroke-width="1.2"/><path d="M-3.6,-4.8Q-3.4,.3 1.4,.3Q6.3,.3 6.5,-4.8" fill="none" stroke="#1b2b55" stroke-width="1.6"/><path d="M3,2.8Q-2,2 -6.5,2.4Q-11,3 -11.1,8L-11.3,12.2Q-3,11 4.8,11.5" fill="none" stroke="#1b2b55" stroke-width="1.6"/><path d="M5.6,2.6L13.4,2.6L13.3,7.6Q12.6,10 9.5,12.4Q6.4,10 5.7,7.6Z" fill="#f3f5f6" stroke="#e2592b" stroke-width="1.5" stroke-linejoin="round"/></svg>
<p class="t" style="left:610.4px;top:1045px;font-size:11.8px;line-height:18px;color:#333;-webkit-text-stroke:0.5px #333;"><span style="letter-spacing:0.76px">IT Security</span><br><span style="letter-spacing:1.11px">Blocked from</span><br><span style="letter-spacing:0.58px">RCO Tool</span></p>
<div class="b" style="left:890px;top:984px;width:130px;height:130px;background:#f6f6fe;border-radius:10px;"></div>
<div class="b" style="left:900px;top:994px;width:40px;height:40px;background:#fff;border-radius:50%;"></div>
<svg class="b" style="left:900px;top:994px" width="40" height="40" viewBox="-20 -20 40 40"><path d="M-10,6L-8,-6Q-5,-13 1,-13L7,-11L8,7Z" fill="#e3e3e3"/><path d="M-8.2,6.6L-6.6,-2.4Q-5.6,-7.4 -1.6,-8.4Q-.4,-10.8 1.2,-11Q2.6,-11 3.4,-10.2" fill="none" stroke="#03173e" stroke-width="1.6"/><path d="M9.3,-.8L10.8,6.6" fill="none" stroke="#03173e" stroke-width="1.6"/><rect x="-10.2" y="6.8" width="22.8" height="3.8" rx="1.9" fill="#fff" stroke="#03173e" stroke-width="1.6"/><path d="M-1.6,11Q1.1,15.6 3.8,11" fill="none" stroke="#03173e" stroke-width="1.6"/><circle cx="6.7" cy="-6" r="3.7" fill="#f0f0f0" stroke="#e2592b" stroke-width="1.4"/><path d="M6.7,-7.4L6.7,-4.6" stroke="#e2592b" stroke-width="1.2"/><path d="M-11.4,-10.4Q-10,-12.2 -8.6,-13M-9,-7.6Q-7.4,-9.6 -5.6,-10.6" fill="none" stroke="#e2592b" stroke-width="1.2"/></svg>
<p class="t" style="left:900.4px;top:1044px;font-size:11.8px;line-height:18px;color:#333;-webkit-text-stroke:0.5px #333;"><span style="letter-spacing:0.57px">Notify IT After So</span><br><span style="letter-spacing:0.87px">Many Login</span><br><span style="letter-spacing:1.21px">Attempts.</span></p>
<div class="b" style="left:1585.44px;top:1027.44px;width:91.11px;height:91.11px;background:#e6f9f0;border-radius:9px;transform:rotate(45deg)"></div>
<div class="b" style="left:1611px;top:1034px;width:40px;height:40px;background:#fff;border-radius:50%;"></div>
<svg class="b" style="left:1611px;top:1034px" width="40" height="40" viewBox="-20 -20 40 40"><path d="M-8,.8L-2.6,6L8.6,-6" fill="none" stroke="#078c4c" stroke-width="1.8"/></svg>
<div class="b" style="left:1571px;top:1082px;width:120px;height:24px;background:#078c4c;border-radius:12px;"></div>
<span class="t" style="left:1587.4px;top:1087px;font-size:13.8px;color:#fff;letter-spacing:0.57px;-webkit-text-stroke:0.3px #fff;">Task Fulfilled</span>
<svg class="b" style="left:0;top:0" width="1864" height="2433" viewBox="0 0 1864 2433">
<circle cx="511" cy="373" r="5.9" fill="#fff" stroke="#0a3561" stroke-width="2"/>
<circle cx="511" cy="629" r="6" fill="#fff" stroke="#c4c4c4" stroke-width="2"/>
<circle cx="501.4" cy="801" r="6" fill="#fff" stroke="#c4c4c4" stroke-width="2"/>
<circle cx="575" cy="722.6" r="3.3" fill="#fff" stroke="#0a3561" stroke-width="1.7"/>
<circle cx="661" cy="722.6" r="3.3" fill="#fff" stroke="#c4c4c4" stroke-width="1.7"/>
<circle cx="802" cy="726" r="6" fill="#fff" stroke="#c4c4c4" stroke-width="2"/>
<circle cx="1024" cy="726" r="6" fill="#fff" stroke="#c4c4c4" stroke-width="2"/>
<circle cx="1246" cy="725" r="6" fill="#fff" stroke="#c4c4c4" stroke-width="2"/>
<circle cx="1446" cy="721" r="6" fill="#fff" stroke="#c4c4c4" stroke-width="2"/>
<circle cx="1555" cy="558" r="3.3" fill="#fff" stroke="#c9c9c9" stroke-width="1.6"/>
<circle cx="1555" cy="884" r="3.3" fill="#fff" stroke="#c9c9c9" stroke-width="1.6"/>
<circle cx="1175" cy="496" r="3.3" fill="#fff" stroke="#0a3561" stroke-width="1.7"/>
<circle cx="1175" cy="656" r="3.3" fill="#fff" stroke="#c4c4c4" stroke-width="1.7"/>
<circle cx="1631" cy="964" r="6" fill="#fff" stroke="#c4c4c4" stroke-width="2"/>
<circle cx="569" cy="1051" r="5.9" fill="#fff" stroke="#f9282d" stroke-width="2"/>
<circle cx="737" cy="1052" r="5.9" fill="#fff" stroke="#f9282d" stroke-width="2"/>
</svg>
<svg class="b" style="left:0;top:0" width="1864" height="2433" viewBox="0 0 1864 2433"><defs><linearGradient id="gb" gradientUnits="userSpaceOnUse" x1="0" y1="1340" x2="0" y2="1550"><stop offset="0" stop-color="#c9d6fe" stop-opacity="1"/><stop offset=".33" stop-color="#c9d6fe" stop-opacity=".63"/><stop offset=".585" stop-color="#c9d6fe" stop-opacity=".31"/><stop offset=".84" stop-color="#c9d6fe" stop-opacity=".1"/><stop offset="1" stop-color="#c9d6fe" stop-opacity="0"/></linearGradient><linearGradient id="go" gradientUnits="userSpaceOnUse" x1="0" y1="1483" x2="0" y2="1650"><stop offset="0" stop-color="#f9e4e4" stop-opacity=".8"/><stop offset=".34" stop-color="#f9e4e4" stop-opacity=".4"/><stop offset=".7" stop-color="#f9e4e4" stop-opacity=".14"/><stop offset="1" stop-color="#f9e4e4" stop-opacity="0"/></linearGradient><linearGradient id="gm" gradientUnits="userSpaceOnUse" x1="1290" y1="0" x2="1560" y2="0"><stop offset="0" stop-color="#fff"/><stop offset="1" stop-color="#000"/></linearGradient><mask id="mk" maskUnits="userSpaceOnUse" x="360" y="1300" width="1300" height="520"><rect x="360" y="1300" width="1300" height="520" fill="url(#gm)"/></mask><filter id="sh" x="-5%" y="-20%" width="110%" height="150%"><feGaussianBlur stdDeviation="3"/></filter></defs><rect x="364" y="1484" width="7" height="326" fill="#fff"/><path d="M370.5,1532 L452.4,1419.5 C489.4,1367.9 522.9,1371.1 531.9,1371.1 C631.49,1371.1 597.15,1518.8 703.6,1518.8 C733.95,1518.8 740.69,1507 787.9,1507 C859.36,1507 864.46,1588.8 915.5,1588.8 C1005.3,1588.8 982.02,1341.8 1081.8,1341.8 C1127.54,1341.8 1140.61,1408 1190.7,1408 C1231.06,1408 1258.67,1371 1296.9,1371 C1345.83,1371 1398.02,1488 1460,1488 C1585.3,1488 1528.02,1319.8 1639,1319.8  L1639,1807 L370.5,1807 Z" fill="url(#gb)" mask="url(#mk)"/><path d="M368,1486.6 C376,1484.8 385,1484 393,1484 C507.66,1484 474.9,1637 556.8,1637 C614.31,1637 645.68,1537.1 687.5,1537.1 C713,1537.1 729.5,1558 762.5,1558 C799.71,1558 814.28,1493.2 843.4,1493.2 C918.1,1493.2 904.76,1728.9 976.8,1728.9 C1015.64,1728.9 1011.76,1652.7 1073.9,1652.7 C1096.32,1652.7 1112.84,1664.3 1132.9,1664.3 C1216.87,1664.3 1182.76,1529.1 1264.1,1529.1 C1330.45,1529.1 1338.41,1657.9 1396.8,1657.9 C1447.19,1657.9 1476.83,1569.1 1545,1569.1 C1556,1569.1 1566,1571.5 1573.9,1574.5  L1570,1807 L368,1807 Z" fill="url(#go)"/><path d="M370.5,1532 L452.4,1419.5 C489.4,1367.9 522.9,1371.1 531.9,1371.1 C631.49,1371.1 597.15,1518.8 703.6,1518.8 C733.95,1518.8 740.69,1507 787.9,1507 C859.36,1507 864.46,1588.8 915.5,1588.8 C1005.3,1588.8 982.02,1341.8 1081.8,1341.8 C1127.54,1341.8 1140.61,1408 1190.7,1408 C1231.06,1408 1258.67,1371 1296.9,1371 C1345.83,1371 1398.02,1488 1460,1488 C1585.3,1488 1528.02,1319.8 1639,1319.8 " transform="translate(0 5)" fill="none" stroke="#14265a" stroke-opacity=".1" stroke-width="4" filter="url(#sh)"/><path d="M370.5,1532 L452.4,1419.5 C489.4,1367.9 522.9,1371.1 531.9,1371.1 C631.49,1371.1 597.15,1518.8 703.6,1518.8 C733.95,1518.8 740.69,1507 787.9,1507 C859.36,1507 864.46,1588.8 915.5,1588.8 C1005.3,1588.8 982.02,1341.8 1081.8,1341.8 C1127.54,1341.8 1140.61,1408 1190.7,1408 C1231.06,1408 1258.67,1371 1296.9,1371 C1345.83,1371 1398.02,1488 1460,1488 C1585.3,1488 1528.02,1319.8 1639,1319.8 " fill="none" stroke="#113b6a" stroke-width="4" stroke-linecap="butt"/><path d="M368,1486.6 C376,1484.8 385,1484 393,1484 C507.66,1484 474.9,1637 556.8,1637 C614.31,1637 645.68,1537.1 687.5,1537.1 C713,1537.1 729.5,1558 762.5,1558 C799.71,1558 814.28,1493.2 843.4,1493.2 C918.1,1493.2 904.76,1728.9 976.8,1728.9 C1015.64,1728.9 1011.76,1652.7 1073.9,1652.7 C1096.32,1652.7 1112.84,1664.3 1132.9,1664.3 C1216.87,1664.3 1182.76,1529.1 1264.1,1529.1 C1330.45,1529.1 1338.41,1657.9 1396.8,1657.9 C1447.19,1657.9 1476.83,1569.1 1545,1569.1 C1556,1569.1 1566,1571.5 1573.9,1574.5  L1570,1577 L1570,1807 L368,1807 Z" fill="none" stroke="#ce522b" stroke-width="5" stroke-linejoin="miter"/><circle cx="531.9" cy="1371.1" r="7.7" fill="#fff"/><circle cx="531.9" cy="1371.1" r="4.1" fill="#113b6a"/><circle cx="787.9" cy="1507" r="7.7" fill="#fff"/><circle cx="787.9" cy="1507" r="4.1" fill="#113b6a"/><circle cx="1081.8" cy="1341.8" r="7.7" fill="#fff"/><circle cx="1081.8" cy="1341.8" r="4.1" fill="#113b6a"/><circle cx="1296.9" cy="1371" r="7.7" fill="#fff"/><circle cx="1296.9" cy="1371" r="4.1" fill="#113b6a"/><circle cx="1639" cy="1319.8" r="9.2" fill="#fff"/><circle cx="1639" cy="1319.8" r="6.2" fill="#113b6a"/><circle cx="556.8" cy="1637" r="7.7" fill="#fff"/><circle cx="556.8" cy="1637" r="4.1" fill="#ce522b"/><circle cx="762.5" cy="1558" r="7.7" fill="#fff"/><circle cx="762.5" cy="1558" r="4.1" fill="#ce522b"/><circle cx="976.8" cy="1728.9" r="7.7" fill="#fff"/><circle cx="976.8" cy="1728.9" r="4.1" fill="#ce522b"/><circle cx="1396.8" cy="1657.9" r="7.7" fill="#fff"/><circle cx="1396.8" cy="1657.9" r="4.1" fill="#ce522b"/><circle cx="1573.9" cy="1574.5" r="9.2" fill="#fff"/><circle cx="1573.9" cy="1574.5" r="6.2" fill="#ce522b"/></svg>
<div class="b" style="left:452px;top:1270px;width:160px;height:80.7px;background:#d3e4f3;border-radius:9px;"></div>
<svg class="b" style="left:525.3px;top:1350.2px" width="13" height="12" viewBox="0 0 13 12"><path d="M0,0L6.5,6.2L13,0Z" fill="#d3e4f3"/></svg>
<p class="t" style="left:462.2px;top:1281px;font-size:11.4px;line-height:17px;color:#363636;-webkit-text-stroke:0.3px #363636;"><span style="letter-spacing:0.57px">PCA 01 &amp; 02 have the</span><br><span style="letter-spacing:1.03px">ability to work with the</span><br><span style="letter-spacing:0.95px">antiquated system.</span></p>
<div class="b" style="left:708px;top:1406.2px;width:160px;height:80.7px;background:#d3e4f3;border-radius:9px;"></div>
<svg class="b" style="left:781.3px;top:1486.4px" width="13" height="12" viewBox="0 0 13 12"><path d="M0,0L6.5,6.2L13,0Z" fill="#d3e4f3"/></svg>
<p class="t" style="left:718.2px;top:1417px;font-size:11.4px;line-height:17px;color:#363636;-webkit-text-stroke:0.3px #363636;"><span style="letter-spacing:0.68px">Need to look at an Excel</span><br><span style="letter-spacing:0.78px">document line by line</span><br><span style="letter-spacing:0.87px">for the required data.</span></p>
<div class="b" style="left:1002px;top:1241px;width:160px;height:80.7px;background:#d3e4f3;border-radius:9px;"></div>
<svg class="b" style="left:1075.3px;top:1321.2px" width="13" height="12" viewBox="0 0 13 12"><path d="M0,0L6.5,6.2L13,0Z" fill="#d3e4f3"/></svg>
<p class="t" style="left:1012.2px;top:1252px;font-size:11.4px;line-height:17px;color:#363636;-webkit-text-stroke:0.3px #363636;"><span style="letter-spacing:0.83px">Improve the quality,</span><br><span style="letter-spacing:0.62px">ease of validation, or</span><br><span style="letter-spacing:0.75px">guidance for review of</span><br><span style="letter-spacing:0.89px">the data.</span></p>
<div class="b" style="left:1217px;top:1251px;width:160px;height:98.5px;background:#d3e4f3;border-radius:9px;"></div>
<svg class="b" style="left:1290.2px;top:1349px" width="13" height="12" viewBox="0 0 13 12"><path d="M0,0L6.5,6.2L13,0Z" fill="#d3e4f3"/></svg>
<p class="t" style="left:1227.2px;top:1262px;font-size:11.4px;line-height:17px;color:#363636;-webkit-text-stroke:0.3px #363636;"><span style="letter-spacing:0.82px">Look at Pricing</span><br><span style="letter-spacing:0.86px">Initiatives where we</span><br><span style="letter-spacing:0.92px">want people to focus</span><br><span style="letter-spacing:0.83px">that gives us the bulk of</span><br><span style="letter-spacing:0.62px">revenue.</span></p>
<div class="b" style="left:1559.2px;top:1144px;width:159px;height:149px;background:#d3e4f3;border-radius:9px;"></div>
<svg class="b" style="left:1632.2px;top:1292.5px" width="13" height="12" viewBox="0 0 13 12"><path d="M0,0L6.5,10L13,0Z" fill="#d3e4f3"/></svg>
<p class="t" style="left:1569.4px;top:1155px;font-size:11.4px;line-height:17px;color:#363636;-webkit-text-stroke:0.3px #363636;"><span style="letter-spacing:0.84px">Wants to make sure</span><br><span style="letter-spacing:1.04px">that our negotiators</span><br><span style="letter-spacing:0.81px">have the tools they</span><br><span style="letter-spacing:0.92px">need to confidently</span><br><span style="letter-spacing:1.05px">negotiate that they've</span><br><span style="letter-spacing:0.89px">accounted for trends</span><br><span style="letter-spacing:0.97px">and movement they</span><br><span style="letter-spacing:0.78px">know is occurring.</span></p>
<div class="b" style="left:477px;top:1668.6px;width:160px;height:100.5px;background:#f3dfc5;border-radius:9px;"></div>
<svg class="b" style="left:550.8px;top:1660.1px" width="12" height="9" viewBox="0 0 12 9"><path d="M0,9L6,0.9L12,9Z" fill="#f3dfc5"/></svg>
<p class="t" style="left:487.2px;top:1678px;font-size:11.4px;line-height:17px;color:#363636;-webkit-text-stroke:0.3px #363636;"><span style="letter-spacing:0.6px">The process is long and</span><br><span style="letter-spacing:0.75px">convoluted and involves</span><br><span style="letter-spacing:0.87px">lots of steps and at</span><br><span style="letter-spacing:0.89px">least 3 different</span><br><span style="letter-spacing:0.94px">software programs.</span></p>
<div class="b" style="left:683px;top:1589.8px;width:160px;height:100px;background:#f3dfc5;border-radius:9px;"></div>
<svg class="b" style="left:756.8px;top:1581.3px" width="12" height="9" viewBox="0 0 12 9"><path d="M0,9L6,0.9L12,9Z" fill="#f3dfc5"/></svg>
<p class="t" style="left:693.2px;top:1599px;font-size:11.4px;line-height:17px;color:#363636;-webkit-text-stroke:0.3px #363636;"><span style="letter-spacing:0.66px">Is there a way to easily</span><br><span style="letter-spacing:1.03px">integrate current</span><br><span style="letter-spacing:0.99px">market trends into the</span><br><span style="letter-spacing:0.96px">best rates for</span><br><span style="letter-spacing:0.87px">negitiations?</span></p>
<div class="b" style="left:897.2px;top:1761.7px;width:160px;height:115px;background:#f3dfc5;border-radius:9px;"></div>
<svg class="b" style="left:970.8px;top:1753.2px" width="12" height="9" viewBox="0 0 12 9"><path d="M0,9L6,0.9L12,9Z" fill="#f3dfc5"/></svg>
<p class="t" style="left:907.4px;top:1770px;font-size:11.4px;line-height:17px;color:#363636;-webkit-text-stroke:0.3px #363636;"><span style="letter-spacing:0.91px">Lots of manual</span><br><span style="letter-spacing:0.67px">calculations, and having</span><br><span style="letter-spacing:0.92px">to use 3-4 different</span><br><span style="letter-spacing:0.67px">software packages as</span><br><span style="letter-spacing:0.84px">opposed to having</span><br><span style="letter-spacing:0.72px">everything in one place.</span></p>
<div class="b" style="left:1317px;top:1689.8px;width:160px;height:102.7px;background:#f3dfc5;border-radius:9px;"></div>
<svg class="b" style="left:1390.7px;top:1681.3px" width="12" height="9" viewBox="0 0 12 9"><path d="M0,9L6,0.9L12,9Z" fill="#f3dfc5"/></svg>
<p class="t" style="left:1327.2px;top:1699px;font-size:11.4px;line-height:17px;color:#363636;-webkit-text-stroke:0.3px #363636;"><span style="letter-spacing:0.62px">Need to be an Excel</span><br><span style="letter-spacing:0.88px">power-user to use the</span><br><span style="letter-spacing:0.88px">current system and</span><br><span style="letter-spacing:0.71px">even then, there are still</span><br><span style="letter-spacing:0.7px">so many steps.</span></p>
<div class="b" style="left:1494px;top:1607.4px;width:160px;height:86.3px;background:#f3dfc5;border-radius:9px;"></div>
<svg class="b" style="left:1567.8px;top:1598.9px" width="12" height="9" viewBox="0 0 12 9"><path d="M0,9L6,0.9L12,9Z" fill="#f3dfc5"/></svg>
<p class="t" style="left:1504.2px;top:1618px;font-size:11.4px;line-height:17px;color:#363636;-webkit-text-stroke:0.3px #363636;"><span style="letter-spacing:0.73px">Need decision tree</span><br><span style="letter-spacing:0.66px">capabilities. Need</span><br><span style="letter-spacing:0.94px">thresholds for strategic</span><br><span style="letter-spacing:0.84px">pricing.</span></p>
<div class="b" style="left:388px;top:2005.7px;width:239px;height:350.8px;background:#fff;border-radius:9px;box-shadow:0 4px 14px rgba(205,212,240,.2),0 0 3px rgba(205,212,240,.18);"></div>
<span class="t" style="left:387.6px;top:1998px;font-size:128px;color:#f6f6f6;font-weight:700;transform:scaleY(1.1);transform-origin:50% 20%;">“</span>
<span class="t" style="left:563.4px;top:2282px;font-size:128px;color:#f6f6f6;font-weight:700;transform:scaleY(1.1);transform-origin:50% 20%;">”</span>
<p class="t" style="left:403.4px;top:2048px;font-size:19.6px;line-height:24px;color:#2c2c2c;"><span style="letter-spacing:1.26px">Looking at the MAW</span><br><span style="letter-spacing:1.19px">knowing that every</span><br><span style="letter-spacing:1.21px">market can't price</span><br><span style="letter-spacing:0.73px">the same because</span><br><span style="letter-spacing:1.16px">they have different</span><br><span style="letter-spacing:1.01px">algorithms; so we</span><br><span style="letter-spacing:1.35px">need to know/</span><br><span style="letter-spacing:1.4px">understand that to</span><br><span style="letter-spacing:1.43px">get to the</span><br><span style="letter-spacing:2.11px">appropriate rate.</span></p>
<span class="t" style="left:403.6px;top:2327px;font-size:11.4px;color:#b4b4b4;letter-spacing:0.72px;">- Janet's Quote</span>
<div class="b" style="left:385px;top:2002.7px;width:16px;height:16px;background:#f9282d;border-radius:50%;"></div>
<span class="t" style="left:389.88px;top:2006px;font-size:11.2px;color:#fff;font-weight:700;">1</span>
<div class="b" style="left:670px;top:2008px;width:16px;height:16px;background:#f9282d;border-radius:50%;"></div>
<span class="t" style="left:674.88px;top:2011px;font-size:11.2px;color:#fff;font-weight:700;">2</span>
<p class="t" style="left:693.6px;top:2008px;font-size:11.4px;line-height:17px;color:#303030;-webkit-text-stroke:0.3px #303030;"><span style="letter-spacing:0.62px">Need to easily be able to see real-</span><br><span style="letter-spacing:0.77px">time changes in the data.</span></p>
<div class="b" style="left:670px;top:2058px;width:16px;height:16px;background:#f9282d;border-radius:50%;"></div>
<span class="t" style="left:674.88px;top:2061px;font-size:11.2px;color:#fff;font-weight:700;">3</span>
<p class="t" style="left:693.6px;top:2058px;font-size:11.4px;line-height:17px;color:#303030;-webkit-text-stroke:0.3px #303030;"><span style="letter-spacing:0.99px">Augment missing data to perform</span><br><span style="letter-spacing:0.59px">more advance analysis.</span></p>
<div class="b" style="left:950px;top:2008px;width:16px;height:16px;background:#f9282d;border-radius:50%;"></div>
<span class="t" style="left:954.88px;top:2011px;font-size:11.2px;color:#fff;font-weight:700;">4</span>
<p class="t" style="left:973.6px;top:2008px;font-size:11.4px;line-height:17px;color:#303030;-webkit-text-stroke:0.3px #303030;"><span style="letter-spacing:0.89px">Need / Want an Interactive rate</span><br><span style="letter-spacing:0.79px">sheet.</span></p>
<div class="b" style="left:950px;top:2058px;width:16px;height:16px;background:#f9282d;border-radius:50%;"></div>
<span class="t" style="left:954.88px;top:2061px;font-size:11.2px;color:#fff;font-weight:700;">5</span>
<p class="t" style="left:973.6px;top:2058px;font-size:11.4px;line-height:17px;color:#303030;-webkit-text-stroke:0.3px #303030;"><span style="letter-spacing:1.02px">Need better integration with</span><br><span style="letter-spacing:0.76px">external data sources, market</span></p>
<div class="b" style="left:1230px;top:2008px;width:16px;height:16px;background:#f9282d;border-radius:50%;"></div>
<span class="t" style="left:1234.88px;top:2011px;font-size:11.2px;color:#fff;font-weight:700;">6</span>
<p class="t" style="left:1253.6px;top:2008px;font-size:11.4px;line-height:17px;color:#303030;-webkit-text-stroke:0.3px #303030;"><span style="letter-spacing:0.83px">Need integration with external data</span><br><span style="letter-spacing:0.6px">sources and improved quality, ease</span><br><span style="letter-spacing:0.67px">of validation, or guidance for review.</span></p>
<div class="b" style="left:1510px;top:2008px;width:16px;height:16px;background:#f9282d;border-radius:50%;"></div>
<span class="t" style="left:1514.88px;top:2011px;font-size:11.2px;color:#fff;font-weight:700;">7</span>
<p class="t" style="left:1533.6px;top:2008px;font-size:11.4px;line-height:17px;color:#303030;-webkit-text-stroke:0.3px #303030;"><span style="letter-spacing:0.76px">Need better collaboration &amp; sharing</span><br><span style="letter-spacing:0.78px">of the integral data.</span></p>
</body>
</html>
